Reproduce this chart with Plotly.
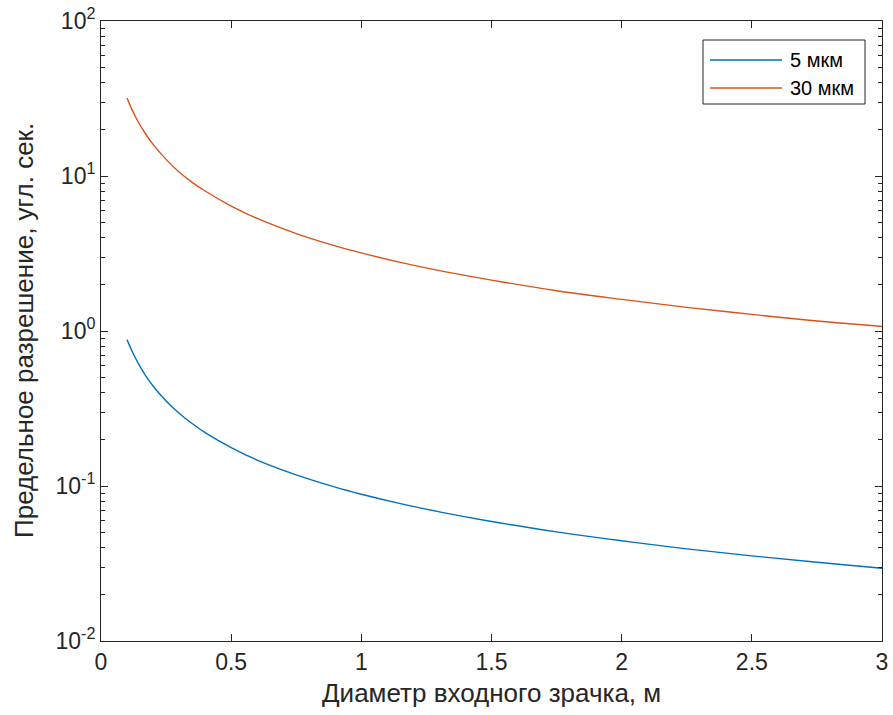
import plotly.graph_objects as go

# Entrance pupil diameter, m
diameter = [0.10, 0.12, 0.14, 0.17, 0.20, 0.25, 0.30, 0.35, 0.40, 0.50, 0.60,
            0.75, 0.90, 1.00, 1.15, 1.30, 1.50, 1.75, 2.00, 2.25, 2.50, 2.75, 3.00]

# Limiting resolution, arcsec
res_5um = [0.880, 0.737, 0.632, 0.520, 0.442, 0.354, 0.295, 0.253, 0.221, 0.177, 0.147,
           0.118, 0.0983, 0.0885, 0.0770, 0.0681, 0.0590, 0.0506, 0.0443, 0.0393,
           0.0354, 0.0322, 0.0295]
res_30um = [31.9, 26.6, 22.8, 18.8, 16.0, 12.8, 10.6, 9.1, 8.0, 6.4, 5.32,
            4.25, 3.54, 3.19, 2.77, 2.45, 2.13, 1.82, 1.60, 1.42, 1.28, 1.16, 1.07]

series_names = ["5 мкм", "30 мкм"]
series_colors = ["#0072BD", "#D95319"]

y_tickvals = [0.01, 0.1, 1, 10, 100]
y_ticktext = ["10<sup>-2</sup>", "10<sup>-1</sup>", "10<sup>0</sup>",
              "10<sup>1</sup>", "10<sup>2</sup>"]
x_tickvals = [0, 0.5, 1, 1.5, 2, 2.5, 3]
x_ticktext = ["0", "0.5", "1", "1.5", "2", "2.5", "3"]

x_title = "Диаметр входного зрачка, м"
y_title = "Предельное разрешение, угл. сек."

FONT = "Liberation Sans, Arial, Helvetica, sans-serif"
AX = "#262626"

fig = go.Figure()
for vals, name, col in zip([res_5um, res_30um], series_names, series_colors):
    fig.add_trace(go.Scatter(
        x=diameter, y=vals, mode="lines", name=name,
        line=dict(color=col, width=1.4, shape="spline", smoothing=1.0),
        showlegend=False,
    ))

minor_vals = [k * 10.0 ** e for e in range(-2, 2) for k in range(2, 10)]

fig.update_layout(
    template="none",
    width=893, height=715,
    margin=dict(l=101, r=11, t=21, b=74, autoexpand=False),
    paper_bgcolor="white", plot_bgcolor="white",
    font=dict(family=FONT, color=AX, size=23),
    xaxis=dict(
        range=[0, 3], tickvals=x_tickvals, ticktext=x_ticktext,
        automargin=False, showgrid=False, zeroline=False,
        showline=True, linecolor=AX, linewidth=1, mirror="ticks",
        ticks="inside", ticklen=7, tickcolor=AX, tickwidth=1,
        tickfont=dict(size=23, color=AX),
    ),
    yaxis=dict(
        type="log", range=[-2, 2], tickvals=y_tickvals, ticktext=y_ticktext,
        automargin=False, showgrid=False, zeroline=False,
        showline=True, linecolor=AX, linewidth=1, mirror="ticks",
        ticks="inside", ticklen=7, tickcolor=AX, tickwidth=1,
        tickfont=dict(size=23, color=AX),
        minor=dict(tickvals=minor_vals, ticks="inside", ticklen=4,
                   tickcolor=AX, tickwidth=1, showgrid=False),
    ),
)

# axis titles
fig.add_annotation(text=x_title, xref="paper", yref="paper", x=0.5, y=0,
                   xanchor="center", yanchor="middle", yshift=-52,
                   showarrow=False, font=dict(size=26, color=AX, family=FONT))
fig.add_annotation(text=y_title, xref="paper", yref="paper", x=0, y=0.5,
                   xanchor="center", yanchor="middle", xshift=-77, textangle=-90,
                   showarrow=False, font=dict(size=26, color=AX, family=FONT))

# legend box in the upper right corner
fig.add_shape(type="rect", xref="paper", yref="paper",
              x0=(703 - 101) / 781, x1=(865 - 101) / 781,
              y0=(641 - 104) / 620, y1=(641 - 40) / 620,
              line=dict(color=AX, width=1), fillcolor="white")
for i, (name, col) in enumerate(zip(series_names, series_colors)):
    yc = (641 - (60 + 28 * i)) / 620
    fig.add_shape(type="line", xref="paper", yref="paper",
                  x0=(710 - 101) / 781, x1=(782 - 101) / 781, y0=yc, y1=yc,
                  line=dict(color=col, width=1.4))
    fig.add_annotation(text=name, xref="paper", yref="paper",
                       x=(788 - 101) / 781, y=yc, xanchor="left", yanchor="middle",
                       showarrow=False, font=dict(size=20, color="black", family=FONT))

fig.write_html("out.html")
